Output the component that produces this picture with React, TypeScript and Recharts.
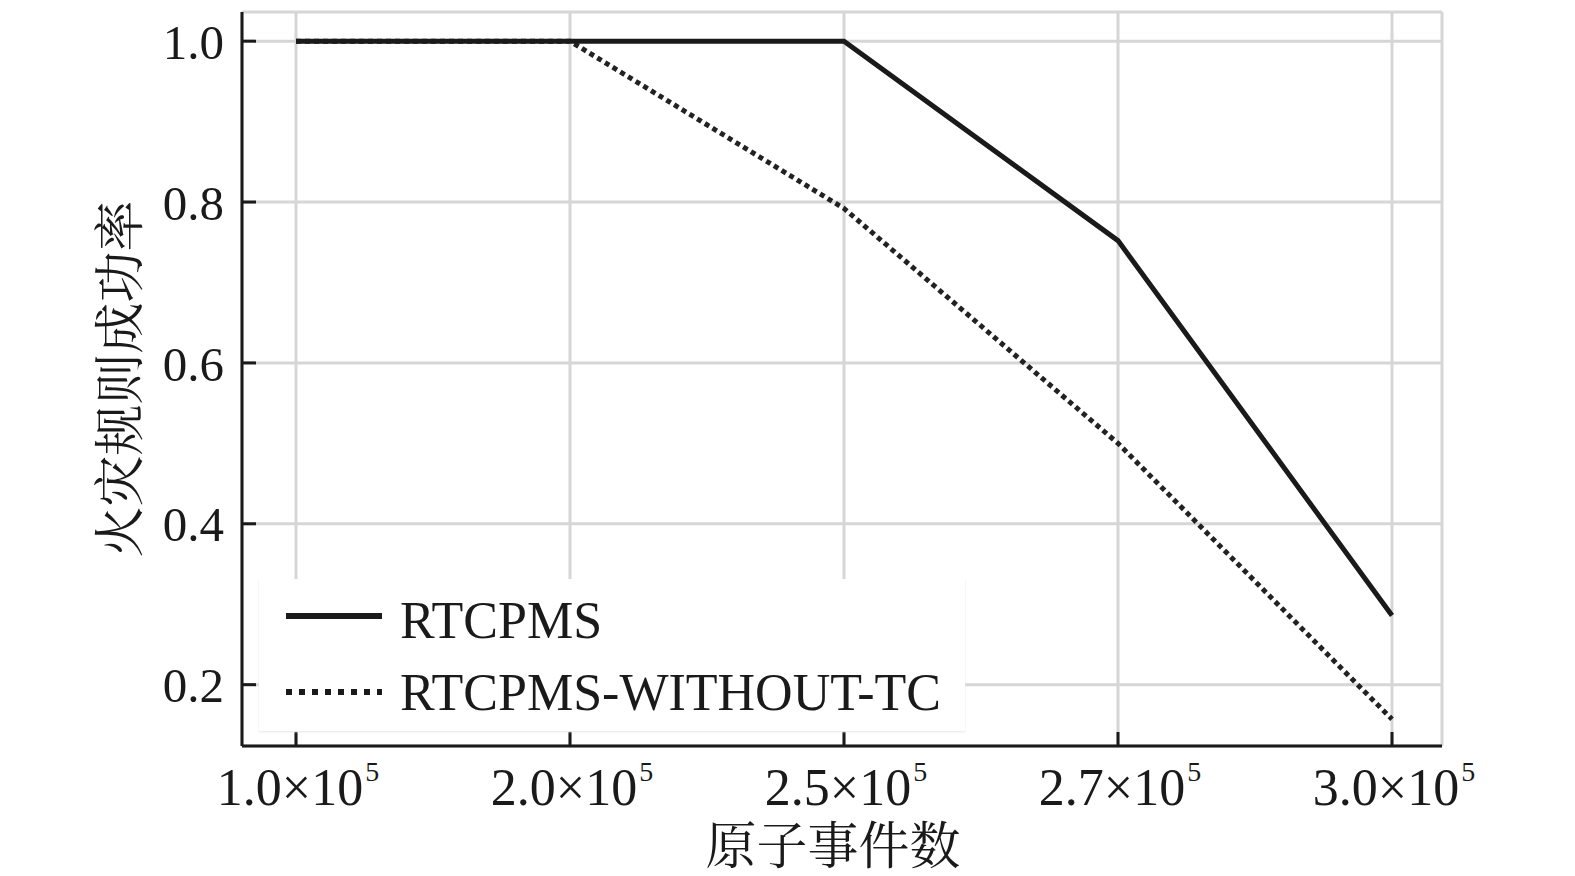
import { LineChart, Line, XAxis, YAxis, CartesianGrid, Legend } from 'recharts';

// 原子事件数 (×10^5)
const categories = ['1.0', '2.0', '2.5', '2.7', '3.0'];
const rtcpms = [1.0, 1.0, 1.0, 0.752, 0.286];
const withoutTc = [1.0, 1.0, 0.792, 0.5, 0.157];
const yTicks = [0.2, 0.4, 0.6, 0.8, 1.0];

const data = categories.map((c, i) => ({
  name: c,
  rtcpms: rtcpms[i],
  withoutTc: withoutTc[i],
}));

const FONT = '"Liberation Serif", "Times New Roman", "Noto Serif CJK SC", "Noto Sans CJK SC", serif';
const INK = '#1a1a1a';

const XTick = (props: any) => {
  const { payload } = props;
  return (
    <text x={payload.coordinate + 2} y={805} textAnchor="middle" fontSize={52} fontFamily={FONT} fill={INK}>
      {payload.value}×10
      <tspan dx={2} dy={-24} fontSize={28}>5</tspan>
    </text>
  );
};

const YTick = (props: any) => {
  const { payload } = props;
  return (
    <text x={224} y={payload.coordinate} dy="0.36em" textAnchor="end" fontSize={49} fontFamily={FONT} fill={INK}>
      {payload.value.toFixed(1)}
    </text>
  );
};

const LegendBox = () => (
  <div
    style={{
      width: 706,
      height: 152,
      background: '#fff',
      boxShadow: '0 1px 2px #e6e6e6',
      position: 'relative',
    }}
  >
    <svg width={706} height={152} style={{ position: 'absolute', left: 0, top: 0 }}>
      <line x1={27} x2={123} y1={37} y2={37} stroke={INK} strokeWidth={6} />
      <line x1={27} x2={123} y1={113} y2={113} stroke={INK} strokeWidth={6} strokeDasharray="6 7" />
      <text x={141} y={41} dy="0.35em" fontSize={52} fontFamily={FONT} fill={INK}>RTCPMS</text>
      <text x={141} y={113} dy="0.35em" fontSize={52} fontFamily={FONT} fill={INK}>RTCPMS-WITHOUT-TC</text>
    </svg>
  </div>
);

export default function App() {
  return (
    <div style={{ width: 1575, height: 876, background: '#fff', position: 'relative' }}>
      <style>{`body{margin:0}`}</style>
      <LineChart
        width={1575}
        height={876}
        data={data}
        margin={{ top: 12, right: 133, left: 0, bottom: 0 }}
      >
        <CartesianGrid stroke="#d6d6d6" strokeWidth={3} />
        <XAxis
          dataKey="name"
          height={130}
          padding={{ left: 54, right: 50 }}
          axisLine={{ stroke: INK, strokeWidth: 3 }}
          tickLine={{ stroke: INK, strokeWidth: 3 }}
          tickSize={-14}
          tick={<XTick />}
          interval={0}
          label={{
            value: '原子事件数',
            position: 'insideBottom',
            offset: 12,
            dx: -9,
            fontSize: 51,
            fontFamily: FONT,
            fill: INK,
          }}
        />
        <XAxis
          xAxisId="top"
          dataKey="name"
          orientation="top"
          height={0}
          tick={false}
          tickLine={false}
          axisLine={{ stroke: INK, strokeWidth: 3 }}
        />
        <YAxis
          width={242}
          domain={[0.12375, 1.03625]}
          ticks={yTicks}
          allowDataOverflow
          axisLine={{ stroke: INK, strokeWidth: 3 }}
          tickLine={{ stroke: INK, strokeWidth: 3 }}
          tickSize={-14}
          tick={<YTick />}
          label={{
            value: '火灾规则成功率',
            angle: -90,
            position: 'insideLeft',
            offset: 120,
            fontSize: 51,
            fontFamily: FONT,
            fill: INK,
            style: { textAnchor: 'middle' },
          }}
        />
        <YAxis
          yAxisId="right"
          orientation="right"
          width={0}
          domain={[0.12375, 1.03625]}
          tick={false}
          tickLine={false}
          axisLine={{ stroke: INK, strokeWidth: 3 }}
        />
        <Line
          dataKey="withoutTc"
          name="RTCPMS-WITHOUT-TC"
          stroke="#222"
          strokeWidth={5}
          strokeDasharray="5 4"
          dot={false}
          isAnimationActive={false}
        />
        <Line
          dataKey="rtcpms"
          name="RTCPMS"
          stroke={INK}
          strokeWidth={5}
          dot={false}
          isAnimationActive={false}
        />
        <Legend
          layout="horizontal"
          verticalAlign="middle"
          align="center"
          content={<LegendBox />}
          wrapperStyle={{ position: 'absolute', left: 259, top: 579, width: 706, height: 152 }}
        />
      </LineChart>
    </div>
  );
}
